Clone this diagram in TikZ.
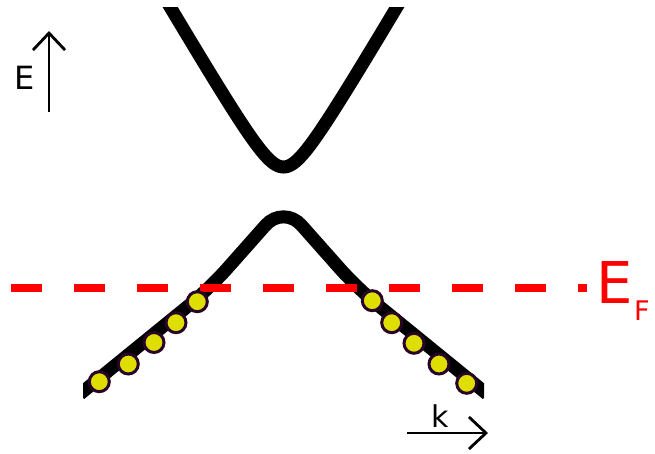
\documentclass[tikz,border=0pt]{standalone}
\usepackage{fontspec}
\setmainfont{DejaVu Sans}
\usetikzlibrary{arrows.meta}
\definecolor{fermired}{RGB}{255,0,0}
\definecolor{dotfill}{RGB}{222,222,0}
\definecolor{dotline}{RGB}{40,5,40}
\begin{document}
\begin{tikzpicture}[x=1pt,y=-1pt,
  band/.style={line width=13pt, black},
  fermi/.style={line width=8pt, fermired, dash pattern=on 31pt off 32pt},
  electron/.style={circle, fill=dotfill, draw=dotline, line width=3pt, minimum size=20pt, inner sep=0pt},
  axis/.style={line width=2.8pt, -{Straight Barb[length=17pt,width=32pt]}},
  lbl/.style={inner sep=0pt, anchor=base west}]
\useasboundingbox (0,0) rectangle (655,453);
\begin{scope}
  \clip (83,7) rectangle (484,453);
  \draw[band] plot[domain=-120:120, samples=121, smooth] ({283.5+\x},{203-10*sqrt(12.96+(0.17*\x)^2)});
  \draw[band, rounded corners=27pt] (80,394) -- (209,289) -- (283.5,205) -- (358,289) -- (487,394);
\end{scope}
\coordinate (fs) at (11,288);
\coordinate (fe) at (587,288);
\draw[fermi] (fs) -- (fe);
\foreach \px/\py [count=\i] in {99.3/381.7,128.3/364,154/342.5,176/322.7,197.3/301.7,
    372.3/300.7,391.7/322.7,414/343.3,439/364,466.7/383.3}
  \node[electron] (d\i) at (\px,\py) {};
\coordinate (ea) at (49,112);
\coordinate (eb) at (49,31);
\draw[axis] (ea) -- (eb);
\coordinate (ka) at (407,433);
\coordinate (kb) at (488,433);
\draw[axis] (ka) -- (kb);
\node[lbl, font=\fontsize{32}{34}\selectfont] (elbl) at (14,89) {E};
\node[lbl, font=\fontsize{30}{32}\selectfont] (klbl) at (431,427) {k};
\node[lbl, text=fermired, font=\fontsize{57.6}{60}\selectfont] (ef) at (596,303.3)
  {E\kern1.5pt\raisebox{-17pt}{\fontsize{27}{29}\selectfont F}};
\end{tikzpicture}
\end{document}
